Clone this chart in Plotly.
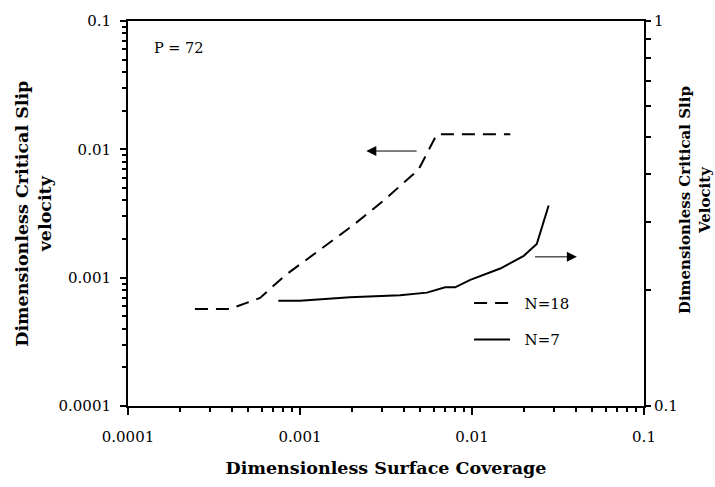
import numpy as np
import plotly.graph_objects as go

# N=18 curve, read against the left axis
coverage_n18 = [0.000245, 0.000392, 0.000586, 0.000818, 0.00125, 0.00205,
                0.00313, 0.00489, 0.00625, 0.0167]
slip_n18 = [0.000571, 0.000571, 0.000695, 0.00104, 0.00158, 0.00258,
            0.00409, 0.00696, 0.0131, 0.0131]

# N=7 curve, read against the right axis
coverage_n7 = [0.000748, 0.001, 0.00195, 0.00382, 0.00547, 0.00698, 0.00798,
               0.00977, 0.0146, 0.020, 0.0238, 0.0279]
slip_n7 = [0.1876, 0.1876, 0.1916, 0.194, 0.197, 0.2033, 0.2033, 0.2127,
           0.2275, 0.2455, 0.2634, 0.3318]

decades = [0.0001, 0.001, 0.01, 0.1]
decade_labels = ['0.0001', '0.001', '0.01', '0.1']
right_ticks = [0.1, 1]
right_labels = ['0.1', '1']

SERIF = 'DejaVu Serif'
minor_lr = [m * d for d in decades[:-1] for m in range(2, 10)]
minor_right = [m / 10 for m in range(2, 10)]

fig = go.Figure()

fig.add_trace(go.Scatter(
    x=coverage_n18, y=slip_n18, mode='lines', name='\u00a0\u00a0N=18',
    line=dict(color='black', width=2, dash='13px,8px'),
    legendgroup='a',
))
fig.add_trace(go.Scatter(
    x=coverage_n7, y=slip_n7, mode='lines', name='\u00a0\u00a0N=7',
    line=dict(color='black', width=2),
    yaxis='y2', legendgroup='b',
))

axis_common = dict(
    type='log', showgrid=False, zeroline=False,
    showline=True, linecolor='black', linewidth=2,
    ticks='outside', tickcolor='black', tickwidth=2,
    tickfont=dict(family=SERIF, size=15, color='black'),
)

fig.update_layout(
    width=715, height=487,
    margin=dict(l=128, r=71, t=15, b=72),
    paper_bgcolor='white', plot_bgcolor='white',
    font=dict(family=SERIF, color='black'),
    xaxis=dict(
        axis_common, range=[-4, -1], mirror=True, ticklen=7,
        tickmode='array', tickvals=decades, ticktext=decade_labels,
        ticklabelstandoff=9,
        minor=dict(ticks='outside', ticklen=4, tickwidth=1.5,
                   tickcolor='black', tickmode='array', tickvals=minor_lr),
        title=dict(text='<b>Dimensionless Surface Coverage</b>',
                   font=dict(family=SERIF, size=17.5), standoff=17),
    ),
    # inner half of the major x ticks, which cross the axis line
    xaxis2=dict(
        type='log', range=[-4, -1], overlaying='x', anchor='y', side='bottom',
        showgrid=False, zeroline=False, showline=False, showticklabels=False,
        ticks='inside', ticklen=4, tickwidth=2, tickcolor='black',
        tickmode='array', tickvals=decades[1:-1],
    ),
    yaxis=dict(
        axis_common, range=[-4, -1], ticklen=6,
        tickmode='array', tickvals=decades, ticktext=decade_labels,
        ticklabelstandoff=6,
        minor=dict(ticks='outside', ticklen=4, tickwidth=1.5,
                   tickcolor='black', tickmode='array', tickvals=minor_lr),
    ),
    yaxis2=dict(
        axis_common, range=[-1, 0], overlaying='y', side='right', ticklen=5,
        tickmode='array', tickvals=right_ticks, ticktext=right_labels,
        minor=dict(ticks='outside', ticklen=5, tickwidth=1.5,
                   tickcolor='black', tickmode='array', tickvals=minor_right),
    ),
    showlegend=True,
    legend=dict(
        x=0.661, y=0.31, xanchor='left', yanchor='top',
        bgcolor='rgba(0,0,0,0)', borderwidth=0,
        font=dict(family=SERIF, size=15, color='black'),
        itemwidth=36, tracegroupgap=14,
    ),
)

# axis titles for the two y axes, and the label / arrows inside the plot
fig.add_annotation(
    text='<b>Dimensionless Critical Slip<br>velocity</b>',
    xref='paper', yref='paper', x=-0.1836, y=0.5,
    xanchor='center', yanchor='middle', textangle=-90, showarrow=False,
    font=dict(family=SERIF, size=17.5),
)
fig.add_annotation(
    text='<b>Dimensionless Critical Slip<br>Velocity</b>',
    xref='paper', yref='paper', x=1.099, y=0.535,
    xanchor='center', yanchor='middle', textangle=-90, showarrow=False,
    font=dict(family=SERIF, size=15),
)
fig.add_annotation(
    text='P = 72', xref='paper', yref='paper', x=0.047, y=0.929,
    xanchor='left', yanchor='middle', showarrow=False,
    font=dict(family=SERIF, size=14.5),
)
fig.add_annotation(
    text='', xref='x', yref='y', axref='x', ayref='y',
    x=np.log10(0.00243), y=np.log10(0.0097),
    ax=np.log10(0.00486), ay=np.log10(0.0097),
    showarrow=True, arrowhead=2, arrowsize=2, arrowwidth=1,
    arrowcolor='black',
)
fig.add_annotation(
    text='', xref='x', yref='y2', axref='x', ayref='y2',
    x=np.log10(0.0407), y=np.log10(0.244),
    ax=np.log10(0.0228), ay=np.log10(0.244),
    showarrow=True, arrowhead=2, arrowsize=2, arrowwidth=1,
    arrowcolor='black',
)

fig.write_html(
    'out.html',
    config=dict(displayModeBar=False),
    post_script="document.body.style.margin='0';",
)
